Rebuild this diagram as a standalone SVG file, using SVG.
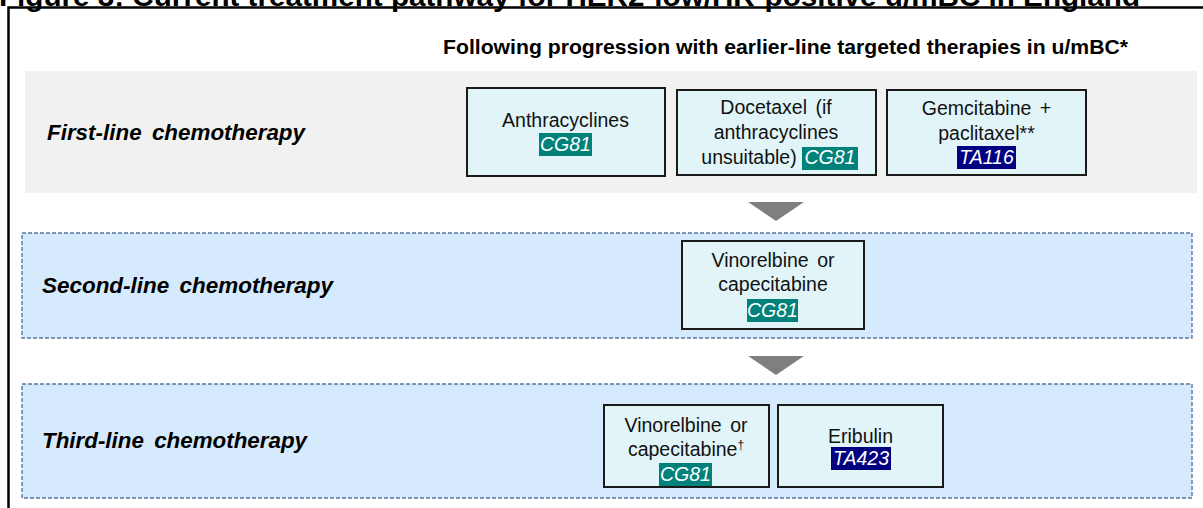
<svg xmlns="http://www.w3.org/2000/svg" width="1203" height="508" viewBox="0 0 1203 508">
<style>
.title{font-family:"Liberation Sans",Arial,sans-serif;font-weight:bold;font-size:27px;fill:#000}
.head{font-family:"Liberation Sans",Arial,sans-serif;font-weight:bold;font-size:20.5px;fill:#000}
.row{font-family:"Liberation Sans",Arial,sans-serif;font-weight:bold;font-style:italic;font-size:22px;fill:#000;word-spacing:4px}
.t{font-family:"Liberation Sans",Arial,sans-serif;font-size:19.5px;fill:#111;text-anchor:middle;word-spacing:3px}
.code{font-family:"Liberation Sans",Arial,sans-serif;font-style:italic;font-size:19.5px;fill:#fff;text-anchor:middle}
.box{fill:#e1f5f9;stroke:#1a1a1a;stroke-width:2}
.band{fill:#d5eafc;stroke:#55789e;stroke-width:1.4;stroke-dasharray:4 2}
.cg{fill:#00827b}
.ta{fill:#000080}
.arrow{fill:#7f7f7f}
</style>
<rect x="0" y="0" width="1203" height="508" fill="#fff"/>
<text class="title" x="-1" y="6" textLength="1141" lengthAdjust="spacingAndGlyphs">Figure 3: Current treatment pathway for HER2-low/HR-positive u/mBC in England</text>
<rect x="8.5" y="7.5" width="1210" height="520" fill="none" stroke="#000" stroke-width="2.5"/>
<text class="head" x="443" y="54" textLength="685" lengthAdjust="spacingAndGlyphs">Following progression with earlier-line targeted therapies in u/mBC*</text>

<g id="band-first">
<rect x="25" y="71" width="1172" height="122" fill="#f0f1f0"/>
<text class="row" x="47" y="140" textLength="258" lengthAdjust="spacingAndGlyphs">First-line chemotherapy</text>
</g>
<g id="band-second">
<rect class="band" x="22" y="233" width="1170" height="105"/>
<text class="row" x="42" y="293" textLength="291" lengthAdjust="spacingAndGlyphs">Second-line chemotherapy</text>
</g>
<g id="band-third">
<rect class="band" x="22" y="384" width="1170" height="114"/>
<text class="row" x="42" y="448" textLength="265" lengthAdjust="spacingAndGlyphs">Third-line chemotherapy</text>
</g>

<g id="connectors">
<polygon class="arrow" points="748,202 804,202 776,221"/>
<polygon class="arrow" points="748,356 804,356 776,375"/>
</g>

<g id="node-anthracyclines">
<rect class="box" x="467" y="88" width="198" height="88"/>
<text class="t" x="565.5" y="127">Anthracyclines</text>
<rect class="cg" x="539" y="133" width="53" height="23"/>
<text class="code" x="565.5" y="151">CG81</text>
</g>
<g id="node-docetaxel">
<rect class="box" x="677" y="90" width="199" height="85"/>
<text class="t" x="776" y="114">Docetaxel (if</text>
<text class="t" x="776" y="139">anthracyclines</text>
<text class="t" x="749" y="164">unsuitable)</text>
<rect class="cg" x="802" y="147" width="56" height="23"/>
<text class="code" x="830" y="164">CG81</text>
</g>
<g id="node-gemcitabine">
<rect class="box" x="887" y="90" width="199" height="85"/>
<text class="t" x="986.5" y="115">Gemcitabine +</text>
<text class="t" x="986.5" y="140">paclitaxel**</text>
<rect class="ta" x="957" y="146" width="59" height="23"/>
<text class="code" x="986.5" y="164">TA116</text>
</g>

<g id="node-vinorelbine-2">
<rect class="box" x="682" y="241" width="182" height="88"/>
<text class="t" x="773" y="267">Vinorelbine or</text>
<text class="t" x="773" y="291">capecitabine</text>
<rect class="cg" x="747" y="299" width="51" height="23"/>
<text class="code" x="772.5" y="317">CG81</text>
</g>

<g id="node-vinorelbine-3">
<rect class="box" x="604" y="405" width="165" height="82"/>
<text class="t" x="686" y="432">Vinorelbine or</text>
<text class="t" x="686" y="456">capecitabine<tspan font-size="12" dy="-7" fill="#111">†</tspan></text>
<rect class="cg" x="659" y="463" width="53" height="23"/>
<text class="code" x="685.5" y="481">CG81</text>
</g>
<g id="node-eribulin">
<rect class="box" x="778" y="405" width="165" height="82"/>
<text class="t" x="860.5" y="443">Eribulin</text>
<rect class="ta" x="831" y="447" width="60" height="23"/>
<text class="code" x="861" y="465">TA423</text>
</g>
</svg>
